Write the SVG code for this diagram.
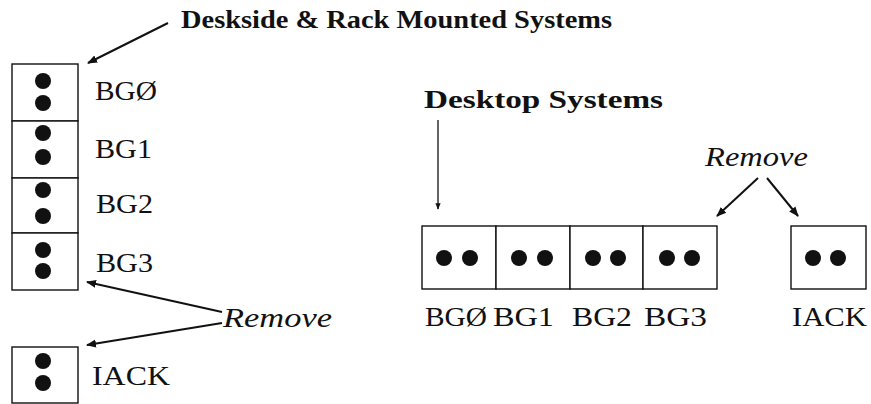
<svg xmlns="http://www.w3.org/2000/svg" width="871" height="404" viewBox="0 0 871 404">
<style>
.box{fill:#fff;stroke:#111;stroke-width:1.4}
.dot{fill:#111}
.lbl{font-family:"Liberation Serif","Times New Roman",serif;font-size:28px;fill:#111}
.ttl{font-family:"Liberation Serif","Times New Roman",serif;font-size:26px;font-weight:bold;fill:#111}
.rem{font-family:"Liberation Serif","Times New Roman",serif;font-size:27px;font-style:italic;fill:#111}
.arr{stroke:#111;stroke-width:2;fill:none;marker-end:url(#ah)}
.arrt{stroke:#111;stroke-width:1.3;fill:none;marker-end:url(#ah)}
</style>
<defs>
<marker id="ah" viewBox="0 0 10 10" refX="9" refY="5" markerWidth="5" markerHeight="5" markerUnits="strokeWidth" orient="auto">
<path d="M0,1 L10,5 L0,9 Z" fill="#111"/>
</marker>
</defs>
<rect width="871" height="404" fill="#fff"/>

<g id="title-deskside"><text class="ttl" x="181" y="28" textLength="431" lengthAdjust="spacingAndGlyphs">Deskside &amp; Rack Mounted Systems</text></g>
<g id="title-desktop"><text class="ttl" x="424" y="108" textLength="239" lengthAdjust="spacingAndGlyphs">Desktop Systems</text></g>

<g id="ds-bg0"><rect class="box" x="12" y="64" width="66" height="57"/><circle class="dot" cx="43" cy="81" r="8"/><circle class="dot" cx="43" cy="103" r="8"/><text class="lbl" x="95" y="100" textLength="62" lengthAdjust="spacingAndGlyphs">BGØ</text></g>
<g id="ds-bg1"><rect class="box" x="12" y="121" width="66" height="57"/><circle class="dot" cx="43" cy="133" r="8"/><circle class="dot" cx="43" cy="157" r="8"/><text class="lbl" x="95" y="158" textLength="57" lengthAdjust="spacingAndGlyphs">BG1</text></g>
<g id="ds-bg2"><rect class="box" x="12" y="178" width="66" height="55"/><circle class="dot" cx="43" cy="190" r="8"/><circle class="dot" cx="43" cy="216" r="8"/><text class="lbl" x="96" y="213" textLength="57" lengthAdjust="spacingAndGlyphs">BG2</text></g>
<g id="ds-bg3"><rect class="box" x="12" y="233" width="66" height="57"/><circle class="dot" cx="43" cy="250" r="8"/><circle class="dot" cx="43" cy="271" r="8"/><text class="lbl" x="96" y="272" textLength="57" lengthAdjust="spacingAndGlyphs">BG3</text></g>
<g id="ds-iack"><rect class="box" x="12" y="347" width="66" height="56"/><circle class="dot" cx="43" cy="361" r="8"/><circle class="dot" cx="43" cy="383" r="8"/><text class="lbl" x="92" y="385" textLength="78" lengthAdjust="spacingAndGlyphs">IACK</text></g>
<g id="ds-remove"><text class="rem" x="223" y="327" textLength="109" lengthAdjust="spacingAndGlyphs">Remove</text></g>

<g id="dt-bg0"><rect class="box" x="422" y="226" width="74" height="63"/><circle class="dot" cx="444" cy="258" r="8"/><circle class="dot" cx="470" cy="258" r="8"/><text class="lbl" x="425" y="326" textLength="62" lengthAdjust="spacingAndGlyphs">BGØ</text></g>
<g id="dt-bg1"><rect class="box" x="496" y="226" width="74" height="63"/><circle class="dot" cx="519" cy="258" r="8"/><circle class="dot" cx="545" cy="258" r="8"/><text class="lbl" x="493" y="326" textLength="61" lengthAdjust="spacingAndGlyphs">BG1</text></g>
<g id="dt-bg2"><rect class="box" x="570" y="226" width="73" height="63"/><circle class="dot" cx="593" cy="258" r="8"/><circle class="dot" cx="618" cy="258" r="8"/><text class="lbl" x="572" y="326" textLength="60" lengthAdjust="spacingAndGlyphs">BG2</text></g>
<g id="dt-bg3"><rect class="box" x="643" y="226" width="74" height="63"/><circle class="dot" cx="667" cy="258" r="8"/><circle class="dot" cx="692" cy="258" r="8"/><text class="lbl" x="644" y="326" textLength="63" lengthAdjust="spacingAndGlyphs">BG3</text></g>
<g id="dt-iack"><rect class="box" x="791" y="226" width="75" height="63"/><circle class="dot" cx="813" cy="258" r="8"/><circle class="dot" cx="838" cy="258" r="8"/><text class="lbl" x="792" y="326" textLength="75" lengthAdjust="spacingAndGlyphs">IACK</text></g>
<g id="dt-remove"><text class="rem" x="705" y="166" textLength="103" lengthAdjust="spacingAndGlyphs">Remove</text></g>

<g id="connectors">
<line class="arr" x1="168" y1="23" x2="88" y2="63"/>
<line class="arrt" x1="438" y1="120" x2="438" y2="209"/>
<line class="arr" x1="222" y1="312" x2="87" y2="282"/>
<line class="arr" x1="222" y1="323" x2="87" y2="345"/>
<line class="arr" x1="758" y1="178" x2="717" y2="216"/>
<line class="arr" x1="767" y1="178" x2="798" y2="216"/>
</g>
</svg>
